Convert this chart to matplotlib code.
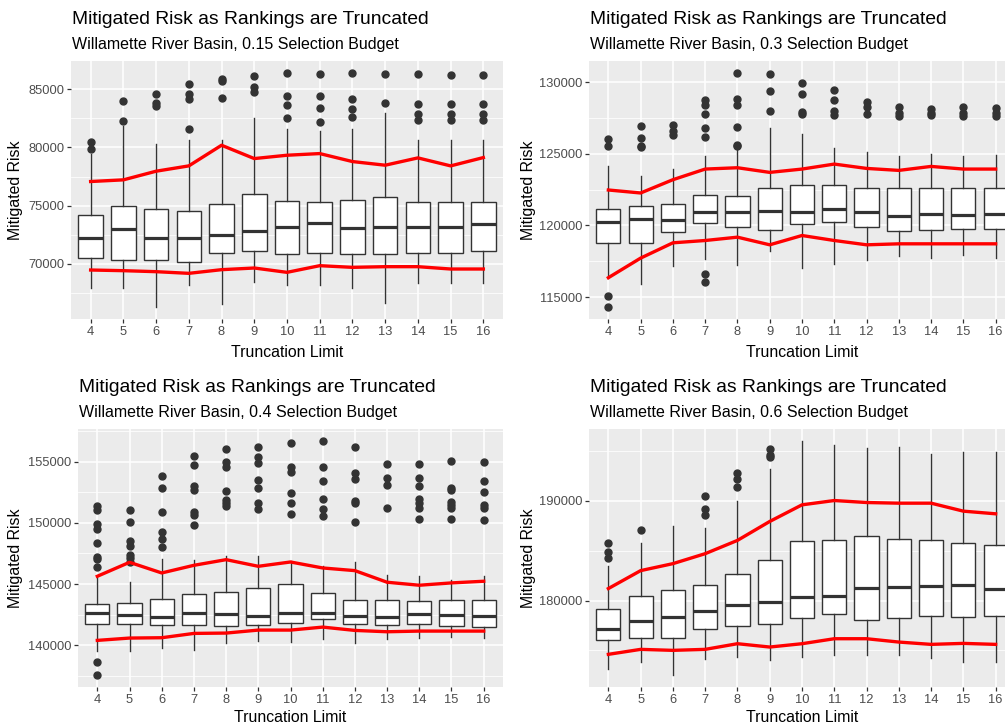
import numpy as np
import matplotlib
matplotlib.use('Agg')
import matplotlib.pyplot as plt
from matplotlib.ticker import MultipleLocator, StrMethodFormatter

plt.rcParams['font.family'] = ['Liberation Sans', 'DejaVu Sans']

limits = [4, 5, 6, 7, 8, 9, 10, 11, 12, 13, 14, 15, 16]

# ---- 0.15 budget ----
b15_lo  = [67885, 67885, 66254, 68171, 66540, 68457, 68171, 68171, 67942, 66626, 68343, 68343, 68343]
b15_q1  = [70461, 70318, 70318, 70175, 70919, 71062, 70862, 70919, 70833, 70862, 70919, 70919, 71062]
b15_med = [72235, 72951, 72235, 72235, 72493, 72779, 73180, 73495, 73094, 73180, 73180, 73180, 73409]
b15_q3  = [74182, 74926, 74697, 74496, 75155, 76014, 75412, 75327, 75498, 75699, 75327, 75327, 75327]
b15_hi  = [79476, 81852, 80278, 80621, 80650, 82510, 81623, 81423, 81566, 82997, 80621, 80621, 80621]
b15_out = [[80507, 79877], [82253, 83970], [84599, 83855, 83569], [81566, 84141, 84599, 85429],
           [84284, 85715, 85916], [84771, 85200, 86145], [82567, 83655, 84428, 86431],
           [82195, 83426, 84428, 86288], [82653, 83283, 84198, 86374], [83826, 86288],
           [82338, 82910, 83712, 86288], [82338, 82910, 83712, 86200], [82338, 82910, 83712, 86200]]
b15_upper = [77072, 77215, 77959, 78417, 80192, 79047, 79333, 79476, 78790, 78475, 79104, 78417, 79133]
b15_lower = [69459, 69402, 69316, 69173, 69488, 69631, 69259, 69832, 69689, 69746, 69746, 69545, 69545]

# ---- 0.3 budget ----
b30_lo  = [116350, 115930, 117158, 117668, 117204, 118178, 117019, 117274, 117552, 117853, 117738, 117946, 117738]
b30_q1  = [118781, 118781, 119522, 120148, 119917, 119685, 120102, 120218, 119917, 119592, 119685, 119731, 119731]
b30_med = [120218, 120450, 120403, 120960, 120960, 121029, 120913, 121145, 120960, 120682, 120774, 120728, 120774]
b30_q3  = [121145, 121331, 121516, 122142, 122073, 122629, 122814, 122814, 122629, 122582, 122582, 122582, 122629]
b30_hi  = [124159, 123417, 123927, 124854, 125665, 126824, 126361, 125364, 125132, 124807, 124947, 124854, 124900]
b30_out = [[115095, 114284, 126013, 125503], [126940, 126129, 125549, 125434], [127033, 126592, 126291],
           [116579, 116046, 126152, 126778, 127798, 128424, 128748],
           [125503, 125620, 126847, 128401, 128795, 130649], [127960, 129397, 130533],
           [127752, 127914, 129142, 129907], [127705, 127983, 128748, 129444],
           [127752, 128285, 128609], [127636, 127868, 128262], [127682, 127868, 128146],
           [127636, 127821, 128262], [127636, 127868, 128192]]
b30_upper = [122467, 122258, 123185, 123927, 124020, 123695, 123927, 124275, 123973, 123834, 124112, 123927, 123927]
b30_lower = [116347, 117715, 118781, 118943, 119175, 118642, 119291, 118943, 118642, 118711, 118711, 118711, 118711]

# ---- 0.4 budget ----
b40_lo  = [139536, 139536, 139807, 139590, 140214, 140322, 140268, 140540, 140160, 140540, 140567, 140675, 140567]
b40_q1  = [141706, 141706, 141625, 141652, 141571, 141625, 141788, 142113, 141706, 141652, 141760, 141571, 141489]
b40_med = [142629, 142466, 142330, 142656, 142547, 142384, 142656, 142602, 142384, 142303, 142547, 142466, 142384]
b40_q3  = [143388, 143470, 143822, 144202, 144338, 144690, 145016, 144283, 143687, 143741, 143605, 143687, 143741]
b40_hi  = [145640, 145179, 147051, 146997, 147268, 147322, 146861, 146454, 146780, 145776, 145640, 145369, 145694]
b40_out = [[138667, 137555, 146373, 147186, 147078, 148353, 149493, 149927, 151012, 151392],
           [146834, 147132, 147404, 148136, 148543, 150062, 151066],
           [148028, 148679, 149249, 150903, 152830, 153833],
           [149818, 150659, 150849, 152694, 153019, 154729, 155461],
           [151392, 151608, 151880, 152640, 154593, 155000, 156004],
           [151147, 151608, 152830, 153508, 154919, 155407, 156194],
           [150713, 151608, 152423, 154132, 154593, 156546],
           [150524, 151120, 151934, 153454, 154539, 156709],
           [150035, 151663, 151825, 153562, 154105, 156221],
           [151256, 153101, 153698, 154810],
           [150334, 151202, 151608, 151961, 153019, 153644, 154810],
           [150334, 151202, 151473, 151744, 152694, 152830, 155081],
           [150252, 151202, 151473, 152532, 153454, 155000]]
b40_upper = [145640, 146780, 145911, 146535, 146997, 146454, 146807, 146318, 146101, 145152, 144908, 145098, 145233]
b40_lower = [140404, 140594, 140621, 140974, 141001, 141245, 141245, 141489, 141218, 141109, 141163, 141163, 141163]

# ---- 0.6 budget ----
b60_lo  = [173167, 173867, 172500, 174100, 174333, 174033, 174333, 174567, 174567, 174567, 174267, 173833, 173833]
b60_q1  = [176000, 176267, 176267, 177100, 177433, 177600, 178233, 178600, 178000, 178233, 178400, 178333, 178400]
b60_med = [177167, 177967, 178333, 178933, 179600, 179867, 180333, 180433, 181267, 181367, 181500, 181567, 181200]
b60_q3  = [179100, 180433, 181100, 181533, 182700, 184033, 185933, 186033, 186500, 186167, 186033, 185767, 185600]
b60_hi  = [183433, 185767, 187433, 187267, 190033, 193167, 196033, 195600, 195267, 195367, 194700, 194933, 194867]
b60_out = [[184267, 184833, 185767], [187100], [], [188533, 189167, 190533],
           [191433, 192167, 192767], [194367, 194600, 195233], [], [], [], [], [], [], []]
b60_upper = [181200, 183000, 183700, 184700, 186033, 187933, 189600, 190033, 189833, 189767, 189767, 188967, 188700]
b60_lower = [174600, 175100, 175000, 175100, 175667, 175333, 175667, 176167, 176167, 175833, 175600, 175700, 175600]

W, H = 1005, 728
fig = plt.figure(figsize=(W / 100, H / 100), dpi=100)

panels = [
    # (budget text, data..., left, right, top, bottom px, major step, title y, subtitle y)
    ('0.15', b15_lo, b15_q1, b15_med, b15_q3, b15_hi, b15_out, b15_upper, b15_lower, 71, 503, 61, 319, 5000, 20, 45),
    ('0.3', b30_lo, b30_q1, b30_med, b30_q3, b30_hi, b30_out, b30_upper, b30_lower, 589, 1015, 61, 319, 5000, 20, 45),
    ('0.4', b40_lo, b40_q1, b40_med, b40_q3, b40_hi, b40_out, b40_upper, b40_lower, 78, 503, 429, 687, 5000, 387, 413),
    ('0.6', b60_lo, b60_q1, b60_med, b60_q3, b60_hi, b60_out, b60_upper, b60_lower, 589, 1015, 429, 687, 10000, 387, 413),
]

dark = '#333333'
for (bud, lo, q1, med, q3, hi, out, upper, lower, l, r, t, b, step, ty, sy) in panels:
    ax = fig.add_axes([l / W, 1 - b / H, (r - l) / W, (b - t) / H])
    ax.set_facecolor('#EBEBEB')
    for s in ax.spines.values():
        s.set_visible(False)

    stats = []
    for i in range(len(limits)):
        stats.append(dict(whislo=lo[i], q1=q1[i], med=med[i], q3=q3[i], whishi=hi[i], fliers=out[i]))
    ax.bxp(stats, positions=limits, widths=0.75, showcaps=False, patch_artist=True,
           boxprops=dict(facecolor='white', edgecolor=dark, linewidth=1.0),
           whiskerprops=dict(color=dark, linewidth=1.0),
           medianprops=dict(color=dark, linewidth=2.3, solid_capstyle='butt'),
           flierprops=dict(marker='o', markerfacecolor=dark, markeredgecolor=dark, markersize=5),
           zorder=3)

    ax.plot(limits, upper, color='#FF0000', lw=2.4, zorder=4, solid_joinstyle='round')
    ax.plot(limits, lower, color='#FF0000', lw=2.4, zorder=4, solid_joinstyle='round')

    allv = lo + hi + upper + lower + [v for o in out for v in o]
    vmin, vmax = min(allv), max(allv)
    pad = (vmax - vmin) * 0.05
    ax.set_ylim(vmin - pad, vmax + pad)
    ax.set_xlim(3.4, 16.6)

    ax.set_xticks(limits)
    ax.set_xticklabels([str(v) for v in limits])
    ax.yaxis.set_major_locator(MultipleLocator(step))
    ax.yaxis.set_minor_locator(MultipleLocator(step / 2))
    ax.yaxis.set_major_formatter(StrMethodFormatter('{x:.0f}'))
    ax.grid(True, which='major', color='white', lw=1.1, zorder=0)
    ax.grid(True, which='minor', axis='y', color='white', lw=0.55, zorder=0)
    ax.set_axisbelow(True)
    ax.tick_params(axis='both', which='major', length=2.8, width=0.9, color=dark,
                   labelsize=9.3, labelcolor='#4D4D4D', pad=2)
    ax.tick_params(axis='y', which='minor', length=0)
    ax.tick_params(axis='x', which='minor', length=0)

    ax.set_xlabel('Truncation Limit', fontsize=11.4, va='center')
    ax.set_ylabel('Mitigated Risk', fontsize=11.4, va='center')
    ax.xaxis.set_label_coords(0.5, ((b - 352.7 if t < 100 else b - 718)) / (b - t))
    ax.yaxis.set_label_coords((16 - l if l < 300 else 528 - l) / (r - l), 0.5)

    fig.text(l / W + 0.001, 1 - ty / H, 'Mitigated Risk as Rankings are Truncated',
             fontsize=13.9, va='center', ha='left')
    fig.text(l / W + 0.001, 1 - sy / H, 'Willamette River Basin, ' + bud + ' Selection Budget',
             fontsize=11.5, va='center', ha='left')

fig.savefig('out.png', dpi=100, facecolor='white')
